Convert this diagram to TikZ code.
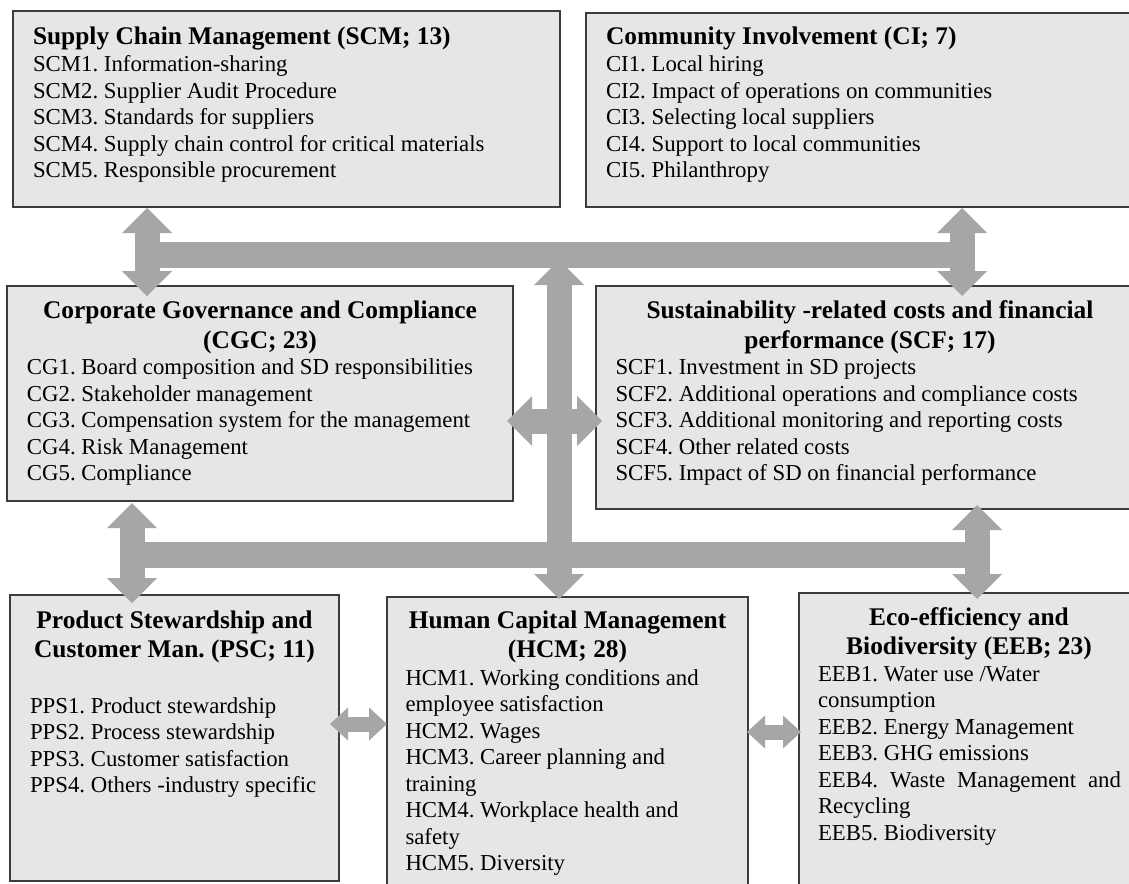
\documentclass[tikz,border=0pt]{standalone}
\usepackage{fontspec}
\setmainfont{Liberation Serif}
\usetikzlibrary{arrows.meta,calc}
\definecolor{boxfill}{RGB}{230,230,230}
\definecolor{boxline}{RGB}{60,60,60}
\definecolor{arrowgray}{RGB}{166,166,166}
\newcommand{\myitemfont}{\fontsize{22.8pt}{26.5pt}\selectfont}
\newcommand{\mytitlefont}{\fontsize{25.4pt}{29.7pt}\selectfont\bfseries}
\frenchspacing
\begin{document}
\begin{tikzpicture}[x=1pt,y=-1pt,
  catbox/.style={draw=boxline, fill=boxfill, line width=1.2pt, rectangle, anchor=north west, inner sep=0pt, outer sep=0pt},
  txt/.style={inner sep=0pt, outer sep=0pt},
  bigarr/.style={draw=arrowgray, line width=25pt,
    {Triangle[width=50pt,length=25pt,line width=0pt]}-{Triangle[width=50pt,length=25pt,line width=0pt]}},
  bar/.style={draw=arrowgray, line width=26pt},
  smallarr/.style={draw=arrowgray, line width=15pt,
    {Triangle[width=33pt,length=18pt,line width=0pt]}-{Triangle[width=33pt,length=18pt,line width=0pt]}}
]
\useasboundingbox (0,0) rectangle (1129,883);
\clip (0,0) rectangle (1129,883);
\fill[white] (0,0) rectangle (1129,883);

% boxes
\node[catbox, minimum width=547pt, minimum height=196pt] (scm) at (13,11) {};
\node[catbox, minimum width=560pt, minimum height=194pt] (ci) at (586,13) {};
\node[catbox, minimum width=506pt, minimum height=215pt] (cgc) at (7,286) {};
\node[catbox, minimum width=548pt, minimum height=223pt] (scf) at (596,286) {};
\node[catbox, minimum width=329pt, minimum height=286pt] (psc) at (10,595) {};
\node[catbox, minimum width=361pt, minimum height=300pt] (hcm) at (387,597) {};
\node[catbox, minimum width=340pt, minimum height=300pt] (eeb) at (799,593) {};

% texts
\node[txt, anchor=base west] (scmT) at (33,45) {\mytitlefont Supply Chain Management (SCM; 13)};
\node[txt, anchor=base west] (scmI) at (33,71.5) {\parbox[t]{520pt}{\myitemfont\raggedright
SCM1. Information-sharing\\
SCM2. Supplier Audit Procedure\\
SCM3. Standards for suppliers\\
SCM4. Supply chain control for critical materials\\
SCM5. Responsible procurement}};

\node[txt, anchor=base west] (ciT) at (606,45) {\mytitlefont Community Involvement (CI; 7)};
\node[txt, anchor=base west] (ciI) at (606,71.5) {\parbox[t]{500pt}{\myitemfont\raggedright
CI1. Local hiring\\
CI2. Impact of operations on communities\\
CI3. Selecting local suppliers\\
CI4. Support to local communities\\
CI5. Philanthropy}};

\node[txt, anchor=base] (cgcT) at (260,318.5) {\parbox[t]{500pt}{\centering\mytitlefont
Corporate Governance and Compliance\\ (CGC; 23)}};
\node[txt, anchor=base west] (cgcI) at (27,374.5) {\parbox[t]{480pt}{\myitemfont\raggedright
CG1. Board composition and SD responsibilities\\
CG2. Stakeholder management\\
CG3. Compensation system for the management\\
CG4. Risk Management\\
CG5. Compliance}};

\node[txt, anchor=base] (scfT) at (870,318.5) {\parbox[t]{540pt}{\centering\mytitlefont
Sustainability -related costs and financial\\ performance (SCF; 17)}};
\node[txt, anchor=base west] (scfI) at (615.5,374.5) {\parbox[t]{510pt}{\myitemfont\raggedright
SCF1. Investment in SD projects\\
SCF2. Additional operations and compliance costs\\
SCF3. Additional monitoring and reporting costs\\
SCF4. Other related costs\\
SCF5. Impact of SD on financial performance}};

\node[txt, anchor=base] (pscT) at (174.5,628) {\parbox[t]{325pt}{\centering\mytitlefont
Product Stewardship and\\ Customer Man. (PSC; 11)}};
\node[txt, anchor=base west] (pscI) at (30,713) {\parbox[t]{300pt}{\myitemfont\raggedright
PPS1. Product stewardship\\
PPS2. Process stewardship\\
PPS3. Customer satisfaction\\
PPS4. Others -industry specific}};

\node[txt, anchor=base] (hcmT) at (567.5,628) {\parbox[t]{355pt}{\centering\mytitlefont
Human Capital Management\\ (HCM; 28)}};
\node[txt, anchor=base west] (hcmI) at (405.5,685) {\parbox[t]{340pt}{\myitemfont\raggedright
HCM1. Working conditions and\\
employee satisfaction\\
HCM2. Wages\\
HCM3. Career planning and\\
training\\
HCM4. Workplace health and\\
safety\\
HCM5. Diversity}};

\node[txt, anchor=base] (eebT) at (969,625) {\parbox[t]{340pt}{\centering\mytitlefont
Eco-efficiency and\\ Biodiversity (EEB; 23)}};
\node[txt, anchor=base west] (eebI) at (818,681) {\parbox[t]{320pt}{\myitemfont\raggedright
EEB1. Water use /Water\\
consumption\\
EEB2. Energy Management\\
EEB3. GHG emissions\\
\leavevmode\hbox to 303pt{EEB4.\hfil Waste\hfil Management\hfil and}\\
Recycling\\
EEB5. Biodiversity}};

% junction coordinates
\coordinate (jl) at (147,255);
\coordinate (jr) at (962,255);
\coordinate (jc) at (559,255);
\coordinate (hm) at (559,421);
\coordinate (kl) at (132,554.5);
\coordinate (kr) at (977,554.5);
\coordinate (sl) at (0,724);
\coordinate (sr) at (0,732);

% connectors
\draw[bar] (jl) -- (jr);
\draw[bar] (kl) -- (kr);
\draw[bigarr] ($(scm.south -| jl)+(0,1)$) -- ($(cgc.north -| jl)+(0,10)$);
\draw[bigarr] ($(ci.south -| jr)+(0,1)$) -- ($(scf.north -| jr)+(0,10)$);
\draw[bigarr] ($(jc)+(0,5)$) -- ($(hcm.north -| jc)+(0,2)$);
\draw[bigarr] ($(cgc.east |- hm)+(-6,0)$) -- ($(scf.west |- hm)+(6,0)$);
\draw[bigarr] ($(cgc.south -| kl)+(0,2)$) -- ($(psc.north -| kl)+(0,8)$);
\draw[bigarr] ($(scf.south -| kr)+(0,-4)$) -- ($(eeb.north -| kr)+(0,6)$);
\draw[smallarr] ($(psc.east |- sl)+(-9,0)$) -- (hcm.west |- sl);
\draw[smallarr] ($(hcm.east |- sr)+(-1,0)$) -- ($(eeb.west |- sr)+(2,0)$);
\end{tikzpicture}
\end{document}
